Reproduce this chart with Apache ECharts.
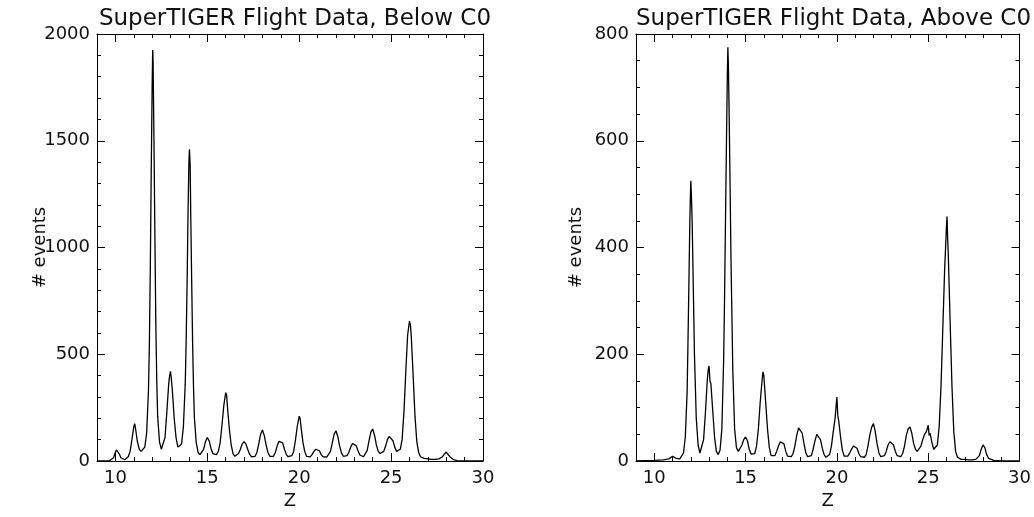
<!DOCTYPE html>
<html>
<head>
<meta charset="utf-8">
<script src="https://cdn.jsdelivr.net/npm/echarts@6/dist/echarts.min.js"></script>
<style>
html,body{margin:0;padding:0;background:#fff;}
#chart{width:1034px;height:517px;}
</style>
</head>
<body>
<div id="chart"></div>
<script>
// ---- data ----
const titles = ['SuperTIGER Flight Data, Below C0', 'SuperTIGER Flight Data, Above C0'];
const xName = 'Z';
const yName = '# events';
const zTickLabels = [10, 15, 20, 25, 30];
const yTickLabelsBelow = [0, 500, 1000, 1500, 2000];
const yTickLabelsAbove = [0, 200, 400, 600, 800];

// [Z, # events] — Below C0
const belowC0 = [
[9.0,0],[9.5,0],[9.7,2],[9.8,5],[9.9,15],[10.0,40],[10.05,52],[10.1,55],[10.2,35],[10.3,15],[10.4,8],[10.5,6],
[10.6,10],[10.7,20],[10.8,45],[10.9,100],[11.0,160],[11.05,175],[11.1,150],[11.2,90],[11.3,55],[11.4,45],[11.5,50],
[11.6,65],[11.7,130],[11.8,330],[11.85,550],[11.9,900],[11.95,1350],[12.0,1750],[12.03,1925],[12.05,1880],[12.1,1500],
[12.15,1050],[12.2,650],[12.25,380],[12.3,210],[12.4,90],[12.5,55],[12.6,60],[12.7,110],[12.8,230],[12.9,360],
[12.95,400],[13.0,420],[13.05,380],[13.1,330],[13.2,200],[13.3,110],[13.4,65],[13.5,60],[13.6,80],[13.7,160],
[13.8,360],[13.85,560],[13.9,820],[13.95,1150],[14.0,1400],[14.03,1460],[14.07,1380],[14.1,1150],[14.15,850],
[14.2,560],[14.25,350],[14.3,200],[14.4,85],[14.5,40],[14.6,30],[14.7,35],[14.8,55],[14.9,90],[15.0,110],[15.1,95],
[15.2,60],[15.3,35],[15.4,28],[15.5,30],[15.6,45],[15.7,85],[15.8,170],[15.9,260],[16.0,320],[16.05,310],[16.1,250],
[16.2,150],[16.3,75],[16.4,35],[16.5,22],[16.6,22],[16.7,35],[16.8,55],[16.9,80],[17.0,90],[17.1,80],[17.2,55],
[17.3,32],[17.4,20],[17.5,18],[17.6,22],[17.7,40],[17.8,80],[17.9,125],[18.0,145],[18.1,120],[18.2,75],[18.3,40],
[18.4,22],[18.5,18],[18.6,22],[18.7,40],[18.8,70],[18.9,92],[19.0,98],[19.1,85],[19.2,55],[19.3,30],[19.4,20],
[19.5,18],[19.6,25],[19.7,45],[19.8,100],[19.9,165],[20.0,210],[20.05,200],[20.1,160],[20.2,90],[20.3,45],[20.4,22],
[20.5,18],[20.6,20],[20.7,30],[20.8,45],[20.9,55],[21.0,58],[21.1,48],[21.2,30],[21.3,20],[21.4,17],[21.5,18],
[21.6,25],[21.7,45],[21.8,85],[21.9,125],[22.0,142],[22.1,115],[22.2,70],[22.3,38],[22.4,22],[22.5,20],[22.6,25],
[22.7,40],[22.8,65],[22.9,82],[23.0,86],[23.1,72],[23.2,48],[23.3,28],[23.4,20],[23.5,20],[23.6,28],[23.7,50],
[23.8,95],[23.9,135],[24.0,150],[24.1,120],[24.2,75],[24.3,45],[24.4,35],[24.5,35],[24.6,45],[24.7,70],[24.8,100],
[24.9,115],[25.0,117],[25.1,95],[25.2,65],[25.3,45],[25.4,40],[25.5,55],[25.6,100],[25.7,230],[25.8,420],[25.9,590],
[26.0,655],[26.05,640],[26.1,580],[26.2,400],[26.3,210],[26.4,90],[26.5,40],[26.6,20],[26.7,14],[26.8,12],[27.0,10],
[27.2,8],[27.4,8],[27.6,10],[27.8,20],[27.9,32],[28.0,42],[28.1,35],[28.2,20],[28.4,6],[28.6,2],[29.0,0],[30.0,0]
];

// [Z, # events] — Above C0
const aboveC0 = [
[9.0,0],[10.0,1],[10.5,2],[10.8,4],[10.9,7],[11.0,9],[11.1,7],[11.2,5],[11.4,4],[11.5,6],[11.6,15],[11.7,45],
[11.8,130],[11.85,230],[11.9,340],[11.95,455],[12.0,525],[12.03,500],[12.07,455],[12.1,400],[12.15,300],[12.2,200],
[12.3,80],[12.4,30],[12.5,15],[12.6,18],[12.7,40],[12.8,90],[12.9,150],[12.95,170],[13.0,178],[13.05,150],[13.1,145],
[13.2,95],[13.3,45],[13.4,18],[13.5,12],[13.6,20],[13.7,60],[13.8,190],[13.85,310],[13.9,450],[13.95,590],[14.0,720],
[14.03,775],[14.06,740],[14.1,650],[14.15,520],[14.2,380],[14.3,170],[14.4,60],[14.5,25],[14.6,18],[14.7,20],
[14.8,30],[14.9,40],[15.0,45],[15.1,38],[15.2,22],[15.3,13],[15.4,11],[15.5,14],[15.6,28],[15.7,60],[15.8,110],
[15.9,150],[15.95,167],[16.0,160],[16.05,135],[16.1,110],[16.2,60],[16.3,25],[16.4,10],[16.5,8],[16.6,10],[16.7,18],
[16.8,28],[16.9,36],[17.0,39],[17.1,32],[17.2,18],[17.3,9],[17.4,7],[17.5,8],[17.6,14],[17.7,28],[17.8,48],[17.9,62],
[18.0,65],[18.1,52],[18.2,32],[18.3,15],[18.4,8],[18.5,7],[18.6,10],[18.7,22],[18.8,38],[18.9,50],[19.0,52],
[19.1,40],[19.2,24],[19.3,12],[19.4,7],[19.5,7],[19.6,12],[19.7,28],[19.8,55],[19.9,80],[20.0,120],[20.05,85],
[20.1,75],[20.2,45],[20.3,20],[20.4,9],[20.5,7],[20.6,9],[20.7,15],[20.8,22],[20.9,28],[21.0,30],[21.1,24],[21.2,14],
[21.3,8],[21.4,6],[21.5,7],[21.6,12],[21.7,28],[21.8,48],[21.9,63],[22.0,70],[22.1,55],[22.2,32],[22.3,15],[22.4,8],
[22.5,7],[22.6,10],[22.7,18],[22.8,30],[22.9,36],[23.0,38],[23.1,30],[23.2,18],[23.3,10],[23.4,7],[23.5,8],[23.6,14],
[23.7,28],[23.8,48],[23.9,60],[24.0,64],[24.1,52],[24.2,33],[24.3,22],[24.4,18],[24.5,20],[24.6,28],[24.7,40],
[24.8,50],[24.9,55],[25.0,67],[25.05,48],[25.1,52],[25.2,35],[25.3,22],[25.4,20],[25.5,30],[25.6,65],[25.7,140],
[25.8,250],[25.9,360],[25.95,400],[26.0,440],[26.03,458],[26.06,420],[26.1,385],[26.2,260],[26.3,140],[26.4,55],
[26.5,18],[26.6,7],[26.7,4],[26.8,3],[27.0,3],[27.2,2],[27.4,2],[27.6,3],[27.7,5],[27.8,10],[27.9,22],[28.0,30],
[28.05,33],[28.1,25],[28.2,12],[28.3,5],[28.4,2],[28.6,1],[29.0,0],[30.0,0]
];

// ---- chart ----
const FONT = 'DejaVu Sans';
const BLACK = '#000';
const TEXT = '#111';
const grids = [
  {left: 97, right: 551, top: 34, bottom: 56},
  {left: 636, right: 13, top: 34, bottom: 56}
];
const panels = [
  {data: belowC0, yMax: 2000, yMinor: 100, yLabels: yTickLabelsBelow, nameGap: 48},
  {data: aboveC0, yMax: 800, yMinor: 50, yLabels: yTickLabelsAbove, nameGap: 51}
];

const xAxes = [], yAxes = [], series = [], titleOpts = [];
panels.forEach((p, g) => {
  const xBase = {gridIndex: g, type: 'value', min: 9, max: 30, splitLine: {show: false}};
  xAxes.push(Object.assign({}, xBase, {
    position: 'bottom', interval: 1,
    axisLine: {show: true, onZero: false, lineStyle: {color: BLACK, width: 1}},
    axisTick: {show: true, inside: true, length: 4, lineStyle: {color: BLACK}},
    axisLabel: {show: true, customValues: zTickLabels, color: TEXT, fontSize: 18, fontFamily: FONT, margin: 8,
      formatter: v => String(v)},
    name: xName, nameLocation: 'middle', nameGap: 31, nameMoveOverlap: false,
    nameTextStyle: {color: TEXT, fontSize: 18, fontFamily: FONT}
  }));
  xAxes.push(Object.assign({}, xBase, {
    position: 'bottom', axisLine: {show: false, onZero: false},
    axisTick: {show: true, inside: true, length: 8, customValues: zTickLabels, lineStyle: {color: BLACK}},
    axisLabel: {show: false}
  }));
  xAxes.push(Object.assign({}, xBase, {
    position: 'top', interval: 1,
    axisLine: {show: true, onZero: false, lineStyle: {color: BLACK, width: 1}},
    axisTick: {show: true, inside: true, length: 4, lineStyle: {color: BLACK}},
    axisLabel: {show: false}
  }));
  xAxes.push(Object.assign({}, xBase, {
    position: 'top', axisLine: {show: false, onZero: false},
    axisTick: {show: true, inside: true, length: 8, customValues: zTickLabels, lineStyle: {color: BLACK}},
    axisLabel: {show: false}
  }));

  const yBase = {gridIndex: g, type: 'value', min: 0, max: p.yMax, splitLine: {show: false}};
  yAxes.push(Object.assign({}, yBase, {
    position: 'left', interval: p.yMinor,
    axisLine: {show: true, onZero: false, lineStyle: {color: BLACK, width: 1}},
    axisTick: {show: true, inside: true, length: 4, lineStyle: {color: BLACK}},
    axisLabel: {show: true, customValues: p.yLabels, color: TEXT, fontSize: 18, fontFamily: FONT, margin: 7,
      formatter: v => String(v)},
    name: yName, nameLocation: 'middle', nameGap: p.nameGap, nameMoveOverlap: false,
    nameTextStyle: {color: TEXT, fontSize: 18, fontFamily: FONT}
  }));
  yAxes.push(Object.assign({}, yBase, {
    position: 'left', axisLine: {show: false, onZero: false},
    axisTick: {show: true, inside: true, length: 8, customValues: p.yLabels, lineStyle: {color: BLACK}},
    axisLabel: {show: false}
  }));
  yAxes.push(Object.assign({}, yBase, {
    position: 'right', interval: p.yMinor,
    axisLine: {show: true, onZero: false, lineStyle: {color: BLACK, width: 1}},
    axisTick: {show: true, inside: true, length: 4, lineStyle: {color: BLACK}},
    axisLabel: {show: false}
  }));
  yAxes.push(Object.assign({}, yBase, {
    position: 'right', axisLine: {show: false, onZero: false},
    axisTick: {show: true, inside: true, length: 8, customValues: p.yLabels, lineStyle: {color: BLACK}},
    axisLabel: {show: false}
  }));

  series.push({
    type: 'line', xAxisIndex: g * 4, yAxisIndex: g * 4, data: p.data,
    showSymbol: false, symbol: 'none', animation: false,
    lineStyle: {color: BLACK, width: 1.3}, z: 1
  });

  const gr = grids[g];
  const cx = (gr.left + (1034 - gr.right)) / 2;
  titleOpts.push({
    text: titles[g], left: cx, top: 3, textAlign: 'center',
    textStyle: {color: TEXT, fontSize: 23, fontWeight: 'normal', fontFamily: FONT}
  });
});

const chart = echarts.init(document.getElementById('chart'), null, {renderer: 'canvas'});
chart.setOption({
  backgroundColor: '#fff',
  animation: false,
  title: titleOpts,
  grid: grids,
  xAxis: xAxes,
  yAxis: yAxes,
  series: series
});
</script>
</body>
</html>
